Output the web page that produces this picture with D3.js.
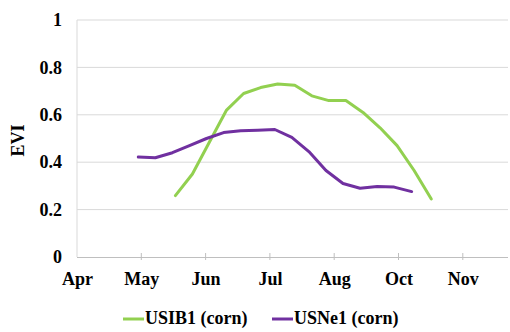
<!DOCTYPE html>
<html>
<head>
<meta charset="utf-8">
<script src="https://cdn.jsdelivr.net/npm/d3@7"></script>
<style>
html,body{margin:0;padding:0;background:#fff;}
svg{display:block;}
text{font-family:"Liberation Serif","Times New Roman",serif;font-weight:bold;fill:#000;}
</style>
</head>
<body>
<svg id="chart" width="510" height="332"></svg>
<script>
// Month tick labels (axis position = month index from Apr)
const monthLabels = ["Apr","May","Jun","Jul","Aug","Oct","Nov"];
const yTicks = [0, 0.2, 0.4, 0.6, 0.8, 1];

// USIB1 (corn): x in month units from Apr, EVI
const usib1X = [1.530,1.795,2.060,2.326,2.591,2.856,3.121,3.387,3.652,3.917,4.182,4.448,4.713,4.978,5.243,5.510];
const usib1Y = [0.259,0.350,0.485,0.620,0.690,0.715,0.730,0.725,0.680,0.660,0.660,0.610,0.545,0.470,0.365,0.245];

// USNe1 (corn)
const usne1X = [0.953,1.218,1.484,1.749,2.014,2.280,2.545,2.810,3.076,3.341,3.606,3.872,4.137,4.402,4.668,4.933,5.205];
const usne1Y = [0.422,0.419,0.440,0.470,0.500,0.525,0.533,0.535,0.538,0.505,0.445,0.365,0.310,0.290,0.297,0.295,0.276];

const seriesNames = ["USIB1 (corn)","USNe1 (corn)"];
const seriesColors = ["#92d050","#7030a0"];

const svg = d3.select("#chart");
const mLeft = 77, mRight = 508, mTop = 20, mBottom = 257;

const x = d3.scaleLinear().domain([0, (mRight-mLeft)/64.3]).range([mLeft, mRight]);
const y = d3.scaleLinear().domain([0, 1]).range([mBottom, mTop]);

// gridlines
svg.append("g").selectAll("line").data(yTicks.filter(d=>d>0)).join("line")
  .attr("x1", mLeft).attr("x2", mRight)
  .attr("y1", d=>y(d)).attr("y2", d=>y(d))
  .attr("stroke", "#d9d9d9").attr("stroke-width", 1);

// left axis line
svg.append("line").attr("x1", mLeft).attr("x2", mLeft).attr("y1", mTop).attr("y2", mBottom)
  .attr("stroke", "#d9d9d9").attr("stroke-width", 1);

// y axis labels
const yAxis = d3.axisLeft(y).tickValues(yTicks).tickSize(0).tickPadding(0)
  .tickFormat(d => d === 0 ? "0" : d === 1 ? "1" : d3.format(".1f")(d));
const gy = svg.append("g").attr("transform", `translate(${mLeft-15},0)`).call(yAxis);
gy.select(".domain").remove();
gy.selectAll("text").style("font-family", "'Liberation Serif',serif").style("font-weight","bold")
  .style("font-size","18px").attr("fill","#000");

// x axis
const xAxis = d3.axisBottom(x).tickValues(d3.range(monthLabels.length))
  .tickFormat(i => monthLabels[i]).tickSize(0).tickPadding(15);
const gx = svg.append("g").attr("transform", `translate(0,${mBottom})`).call(xAxis);
gx.select(".domain").attr("stroke", "#bfbfbf").attr("d", `M${mLeft},0.5H${mRight}`);
gx.selectAll("text").style("font-family", "'Liberation Serif',serif").style("font-weight","bold")
  .style("font-size","18px").attr("fill","#000");
// tick marks
svg.append("g").selectAll("line").data(d3.range(1, monthLabels.length)).join("line")
  .attr("x1", d=>x(d)).attr("x2", d=>x(d))
  .attr("y1", mBottom-4).attr("y2", mBottom+3)
  .attr("stroke", "#bfbfbf").attr("stroke-width", 1);

// y title
svg.append("text").attr("transform", `translate(24,${(mTop+mBottom)/2+2}) rotate(-90)`)
  .attr("text-anchor","middle").style("font-size","18px").text("EVI");

// lines
const line = d3.line().x(d=>x(d[0])).y(d=>y(d[1]));
const data = [d3.zip(usib1X, usib1Y), d3.zip(usne1X, usne1Y)];
svg.append("g").selectAll("path").data(data).join("path")
  .attr("d", line).attr("fill","none")
  .attr("stroke", (d,i)=>seriesColors[i]).attr("stroke-width", 3)
  .attr("stroke-linejoin","round").attr("stroke-linecap","round");

// legend
const legX = [123, 272];
const leg = svg.append("g").selectAll("g").data(seriesNames).join("g")
  .attr("transform", (d,i)=>`translate(${legX[i]},319)`);
leg.append("line").attr("x1",0).attr("x2",21).attr("y1",0).attr("y2",0)
  .attr("stroke",(d,i)=>seriesColors[i]).attr("stroke-width",3);
leg.append("text").attr("x",22).attr("y",5).style("font-size","18px").text(d=>d);
</script>
</body>
</html>
